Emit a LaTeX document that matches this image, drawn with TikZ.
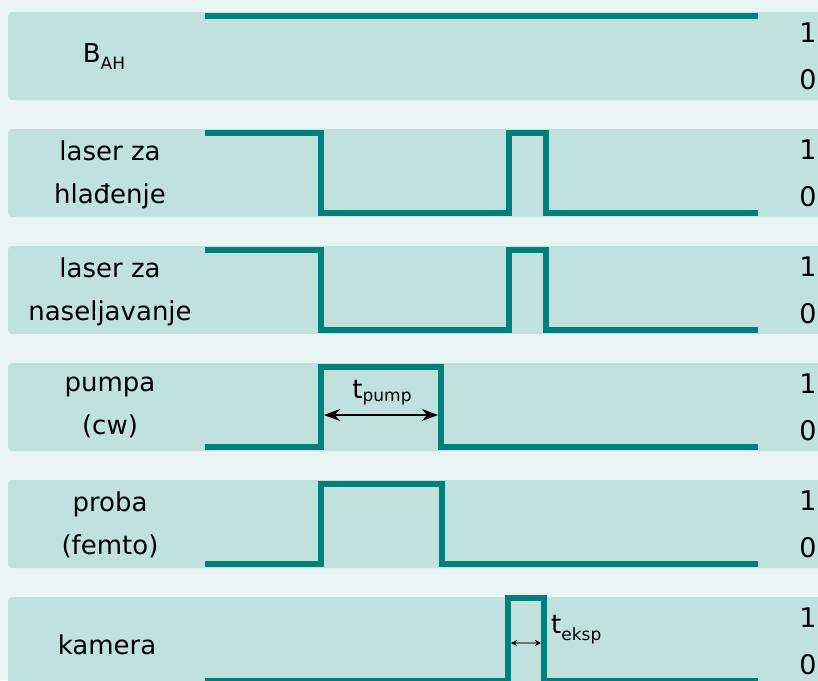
\documentclass[tikz,border=0pt]{standalone}
\usepackage{fontspec}
\setmainfont{DejaVu Sans}
\usetikzlibrary{arrows.meta}
\definecolor{bgc}{RGB}{233,244,244}
\definecolor{bandc}{RGB}{193,225,223}
\definecolor{sigc}{RGB}{0,128,122}
\newcommand{\sbs}[2]{\raisebox{-#2}{\fontsize{17}{17}\selectfont #1}}
\begin{document}
\begin{tikzpicture}[x=1pt,y=-1pt,
  bandbox/.style={fill=bandc, rounded corners=4pt},
  sig/.style={draw=sigc, line width=6pt, line join=miter},
  lab/.style={font=\fontsize{26}{43}\selectfont, align=center, inner sep=0pt},
  lvl/.style={font=\fontsize{27}{27}\selectfont, inner sep=0pt},
  dim/.style={{Stealth[length=16pt,width=12pt,inset=5pt]}-{Stealth[length=16pt,width=12pt,inset=5pt]}, line width=1.3pt, black},
  dimsmall/.style={{Stealth[length=6pt,width=6pt,inset=2pt,color=black]}-{Stealth[length=6pt,width=6pt,inset=2pt,color=black]}, line width=1.2pt, draw=gray!90!black}
]
\useasboundingbox (0,0) rectangle (818,680);
\clip (0,0) rectangle (818,680);
\fill[bgc] (0,0) rectangle (818,680);
\foreach \i in {0,...,5}
  \fill[bandbox] (8,{12+117*\i}) rectangle (840,{100+117*\i});

% signals
\draw[sig] (205,16) -- (758,16);
\draw[sig] (205,133) -- (321,133) -- (321,213) -- (509,213) -- (509,133) -- (546,133) -- (546,213) -- (758,213);
\draw[sig] (205,250) -- (321,250) -- (321,330) -- (509,330) -- (509,250) -- (546,250) -- (546,330) -- (758,330);
\draw[sig] (205,447) -- (321,447) -- (321,367) -- (441,367) -- (441,447) -- (758,447);
\draw[sig] (205,564) -- (321,564) -- (321,484) -- (442,484) -- (442,564) -- (758,564);
\draw[sig] (205,681) -- (508,681) -- (508,598) -- (544,598) -- (544,681) -- (758,681);

% left labels
\node[lab] (bah) at (104,57) {B\sbs{AH}{7pt}};
\node[lab] (hl) at (110,175) {laser za\\hlađenje};
\node[lab] (nas) at (110,292) {laser za\\naseljavanje};
\node[lab] (pum) at (110,407) {pumpa\\(cw)};
\node[lab] (pro) at (110,525) {proba\\(femto)};
\node[lab] (kam) at (107,645) {kamera};

% level labels
\foreach \i in {0,...,5}{
  \node[lvl] (one\i) at (808,{33+117*\i}) {1};
  \node[lvl] (zero\i) at (808,{80+117*\i}) {0};
}

% durations
\coordinate (pA) at (324,415);
\coordinate (pB) at (438,415);
\draw[dim] (pA) -- (pB);
\node[lab] (tp) at (382,393) {t\sbs{pump}{3pt}};
\coordinate (eA) at (511,643);
\coordinate (eB) at (541,643);
\draw[dimsmall] (eA) -- (eB);
\node[lab, anchor=west] (te) at (551,630) {t\sbs{eksp}{7pt}};
\end{tikzpicture}
\end{document}
